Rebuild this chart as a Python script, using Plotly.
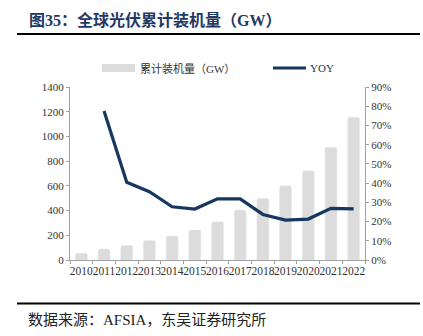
import plotly.graph_objects as go

years = ["2010", "2011", "2012", "2013", "2014", "2015", "2016",
         "2017", "2018", "2019", "2020", "2021", "2022"]
cumulative_gw = [55, 90, 118, 157, 195, 243, 310, 405, 500, 600, 722, 912, 1156]
yoy = [None, 0.775, 0.404, 0.355, 0.277, 0.265, 0.318, 0.318,
       0.237, 0.208, 0.213, 0.269, 0.266]

W, H = 423, 336
L, R, T, B = 70, 365, 87, 260

def px(x):
    return (x - L) / (R - L)

def py(y):
    return (B - y) / (B - T)

SERIF = "Liberation Serif, Noto Sans CJK SC"
BAR_C = "#dcdcdc"
LINE_C = "#17375e"
AX_C = "#a0a0a0"

fig = go.Figure()
fig.add_trace(go.Bar(x=years, y=cumulative_gw, marker_color=BAR_C,
                     name="累计装机量（GW）", showlegend=False))
fig.add_trace(go.Scatter(x=years, y=yoy, mode="lines", yaxis="y2",
                         line=dict(color=LINE_C, width=3.2),
                         name="YOY", showlegend=False))

shapes = [
    dict(type="line", xref="paper", yref="paper", x0=px(17), x1=px(420),
         y0=py(34), y1=py(34), line=dict(color="#000", width=2)),
    dict(type="line", xref="paper", yref="paper", x0=px(17), x1=px(420),
         y0=py(303.5), y1=py(303.5), line=dict(color="#000", width=2)),
    # legend symbols
    dict(type="rect", xref="paper", yref="paper", x0=px(102), x1=px(135),
         y0=py(72), y1=py(64), fillcolor=BAR_C, line=dict(width=0)),
    dict(type="line", xref="paper", yref="paper", x0=px(273), x1=px(306),
         y0=py(68), y1=py(68), line=dict(color=LINE_C, width=3.2)),
]

annotations = [
    dict(text="<b>图35：全球光伏累计装机量（GW）</b>", xref="paper", yref="paper",
         x=px(27), y=py(20), xanchor="left", yanchor="middle", showarrow=False,
         font=dict(family=SERIF, size=16, color="#1f3864")),
    dict(text="累计装机量（GW）", xref="paper", yref="paper",
         x=px(138), y=py(68), xanchor="left", yanchor="middle", showarrow=False,
         font=dict(family=SERIF, size=11, color="#333")),
    dict(text="YOY", xref="paper", yref="paper",
         x=px(308), y=py(68), xanchor="left", yanchor="middle", showarrow=False,
         font=dict(family=SERIF, size=11, color="#333")),
    dict(text="数据来源：AFSIA，东吴证券研究所", xref="paper", yref="paper",
         x=px(26), y=py(320), xanchor="left", yanchor="middle", showarrow=False,
         font=dict(family=SERIF, size=15, color="#222")),
]

fig.update_layout(
    width=W, height=H,
    margin=dict(l=L, r=W - R, t=T, b=H - B, pad=0),
    paper_bgcolor="white", plot_bgcolor="white",
    bargap=0.47, barcornerradius=2,
    font=dict(family=SERIF, size=11, color="#333"),
    shapes=shapes, annotations=annotations,
    xaxis=dict(type="category", range=[-0.5, 12.5], showgrid=False,
               showline=True, linecolor=AX_C, linewidth=1,
               ticks="outside", tickson="boundaries", ticklen=3, tickcolor=AX_C,
               tickfont=dict(family=SERIF, size=11.5, color="#333"), tickangle=0),
    yaxis=dict(range=[0, 1400], dtick=200, showgrid=False, zeroline=False,
               showline=True, linecolor=AX_C, linewidth=1,
               ticks="outside", ticklen=3, tickcolor=AX_C,
               tickfont=dict(family=SERIF, size=11, color="#333")),
    yaxis2=dict(range=[0, 0.9], dtick=0.1, tickformat=".0%", overlaying="y",
                side="right", showgrid=False, zeroline=False,
                showline=True, linecolor=AX_C, linewidth=1,
                ticks="outside", ticklen=3, tickcolor=AX_C,
                tickfont=dict(family=SERIF, size=11, color="#333")),
)

fig.write_html("out.html")
